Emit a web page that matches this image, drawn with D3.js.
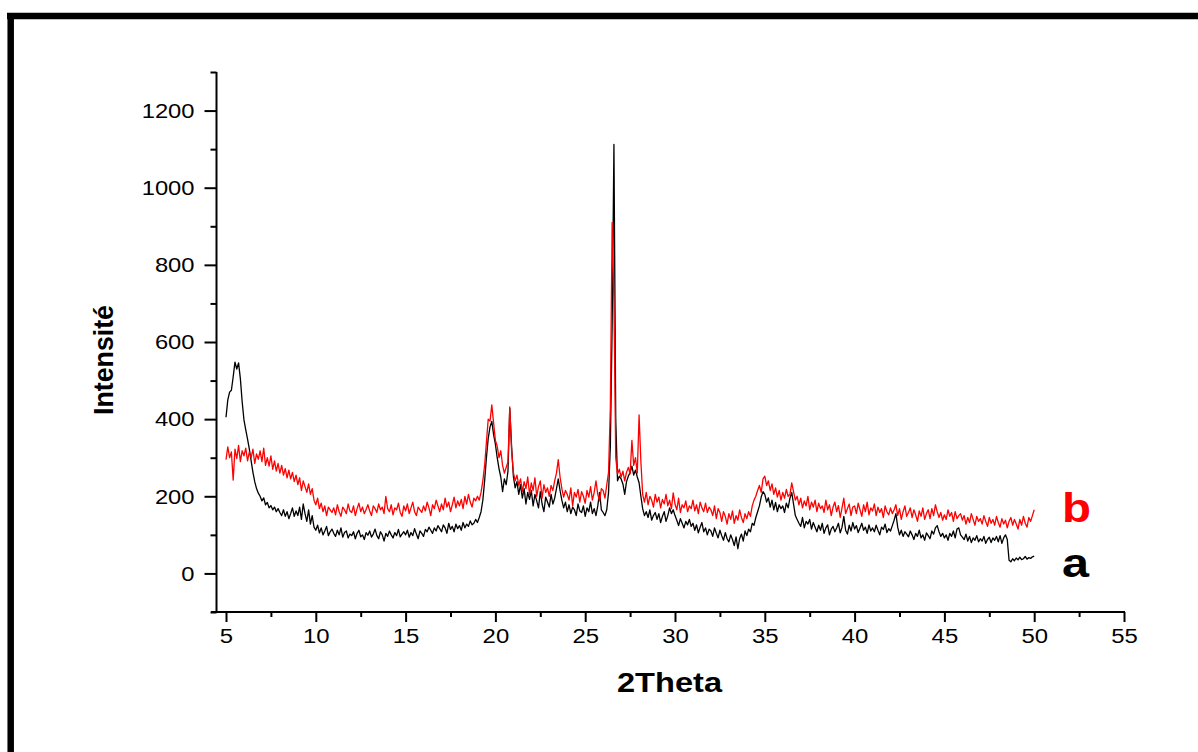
<!DOCTYPE html>
<html>
<head>
<meta charset="utf-8">
<script src="https://cdn.jsdelivr.net/npm/d3@7/dist/d3.min.js"></script>
<style>
  html, body { margin: 0; padding: 0; background: #fff; }
  svg { display: block; }
  text { font-family: "Liberation Sans", Arial, sans-serif; }
</style>
</head>
<body>
<svg id="chart" width="1198" height="752"></svg>
<script>
// ---- Data ----
const thetaStart = 5.0;          // first 2θ value
const thetaStep = 0.1;           // sampling step in degrees
// Series a (black), 5.0 → 50.0 every 0.1°
const seriesA = [
  405,450,470,475,510,548,530,546,505,445,
  398,372,348,322,292,262,238,220,208,200,
  188,196,178,184,170,176,165,172,160,168,
  158,150,165,148,160,142,155,170,148,162,
  150,172,140,180,155,135,165,128,150,120,
  112,125,105,118,100,110,122,98,108,115,
  104,96,112,100,118,94,106,110,92,102,
  98,108,90,104,112,95,100,88,106,99,
  110,94,102,115,98,90,108,100,84,104,
  96,110,100,92,106,98,114,95,102,108,
  100,112,94,106,98,116,102,90,110,104,
  96,114,108,120,112,104,118,110,124,116,
  108,126,118,104,130,114,122,108,128,116,
  124,112,132,118,128,122,136,126,130,140,
  132,145,160,190,240,300,350,380,394,360,
  335,300,272,250,212,245,230,265,428,330,
  252,222,238,205,230,195,220,180,210,192,
  215,175,205,188,170,212,180,160,198,185,
  172,205,180,195,220,245,215,190,170,185,
  160,178,155,172,165,150,180,162,158,175,
  148,170,160,185,155,168,150,175,210,165,
  158,150,165,210,330,640,1112,400,240,252,
  245,232,205,238,252,262,278,255,268,250,
  235,200,168,150,160,145,165,138,150,158,
  140,155,132,148,160,135,150,170,155,165,
  150,138,124,142,130,118,135,126,140,122,
  130,112,126,105,120,132,108,118,100,115,
  110,96,118,104,92,112,98,86,106,90,
  82,100,88,72,95,64,90,102,84,110,
  98,115,108,130,125,145,160,175,198,212,
  205,185,196,172,190,165,184,160,178,168,
  175,158,182,170,195,210,180,150,140,130,
  122,145,118,135,128,140,115,132,120,108,
  125,112,130,104,118,126,100,115,122,108,
  118,130,105,120,148,112,102,125,110,132,
  115,124,106,118,130,112,120,104,126,110,
  118,108,125,112,100,120,114,128,106,116,
  110,124,138,155,120,100,112,96,108,102,
  95,110,100,88,104,96,112,92,100,86,
  105,98,90,110,102,118,124,108,96,104,
  92,100,86,104,96,110,92,115,118,100,
  94,88,102,84,96,80,92,86,98,82,
  90,84,96,78,88,94,80,92,86,96,
  82,98,78,92,100,88,34,30,38,33,
  40,35,42,36,38,44,37,41,39,43,
  45
];
// Series b (red), 5.0 → 50.0 every 0.1°
const seriesB = [
  295,328,300,315,242,322,298,332,290,318,
  305,325,292,315,300,322,285,310,296,318,
  290,325,280,300,278,305,270,292,265,285,
  260,280,255,272,248,268,245,262,238,255,
  230,248,215,240,225,210,232,205,220,190,
  178,195,168,182,160,175,150,172,165,158,
  170,152,178,160,148,172,165,155,180,162,
  158,175,150,168,182,160,172,155,166,178,
  162,150,175,168,158,180,165,172,155,200,
  168,160,178,152,170,165,182,158,148,175,
  162,180,155,170,185,160,150,172,165,158,
  175,162,185,170,150,178,168,190,175,160,
  180,165,195,172,185,160,178,198,170,188,
  175,192,168,200,180,205,185,172,195,188,
  200,190,210,240,280,340,400,395,437,390,
  345,330,300,318,280,260,275,290,432,320,
  262,240,255,228,245,212,238,220,250,205,
  235,215,248,200,225,240,195,230,210,222,
  200,228,215,240,260,295,250,220,198,215,
  205,190,222,175,210,198,218,185,212,200,
  182,215,198,225,190,210,240,205,188,220,
  215,195,230,262,430,910,700,300,258,270,
  250,265,240,262,275,258,345,280,300,260,
  411,290,205,185,210,178,200,190,172,205,
  185,198,170,192,180,205,175,190,168,209,
  180,165,195,158,178,170,188,160,175,168,
  190,162,178,155,185,170,160,182,158,172,
  165,150,175,142,168,158,135,160,148,128,
  155,140,162,130,150,138,165,145,132,155,
  142,160,148,175,190,200,215,228,210,245,
  252,228,240,215,232,205,222,198,215,190,
  210,195,218,200,205,235,212,190,200,178,
  195,170,188,175,200,165,185,172,190,160,
  182,168,175,158,190,165,178,150,172,185,
  160,176,145,170,195,155,168,180,150,172,
  175,155,182,165,148,178,160,185,152,170,
  162,180,150,172,158,168,145,175,160,152,
  170,155,165,178,150,168,140,160,175,148,
  158,170,145,165,152,135,162,148,170,140,
  155,165,142,168,150,178,160,145,158,138,
  152,140,165,148,158,135,160,142,150,155,
  138,150,128,145,132,155,140,125,148,135,
  142,128,150,135,122,145,130,140,125,148,
  132,120,142,128,138,118,135,145,125,140,
  128,115,140,125,148,130,120,145,135,150,
  165
];
const xTicks = [5,10,15,20,25,30,35,40,45,50,55];
const xMinorTicks = [7.5,12.5,17.5,22.5,27.5,32.5,37.5,42.5,47.5,52.5];
const yTicks = [0,200,400,600,800,1000,1200];
const yMinorTicks = [-100,100,300,500,700,900,1100,1300];
const seriesLabels = ["a","b"];
const seriesColors = ["#000000","#ff0000"];
const xTitle = "2Theta";
const yTitle = "Intensité";

// ---- Layout ----
const svg = d3.select("#chart");
const x = d3.scaleLinear().domain([5,55]).range([226,1124]);
const y = d3.scaleLinear().domain([-100,1300]).range([612,72]);
const axisX0 = 216.5, axisY0 = 612;

// Outer frame (thick black lines at top and left)
svg.append("line").attr("x1",7).attr("x2",1198).attr("y1",16).attr("y2",16)
  .attr("stroke","#000").attr("stroke-width",6.5);
svg.append("line").attr("x1",10.7).attr("x2",10.7).attr("y1",13).attr("y2",752)
  .attr("stroke","#000").attr("stroke-width",6.5);

const toPoints = arr => arr.map((v,i) => [+(thetaStart + i*thetaStep).toFixed(2), v]);
const line = d3.line().x(d => x(d[0])).y(d => y(d[1]));

// Series lines
[seriesA, seriesB].forEach((s,k) => {
  svg.append("path").datum(toPoints(s))
    .attr("fill","none").attr("stroke",seriesColors[k])
    .attr("stroke-width",1.3).attr("stroke-linejoin","round")
    .attr("d",line);
});

// Axes
const gx = svg.append("g").attr("transform",`translate(0,${axisY0})`);
gx.call(d3.axisBottom(x).tickValues(xTicks).tickSize(10).tickPadding(7).tickFormat(d3.format("d")));
gx.append("g").call(d3.axisBottom(x).tickValues(xMinorTicks).tickSize(5).tickFormat(""));
gx.selectAll(".domain").remove();
gx.selectAll("line").attr("stroke","#000").attr("stroke-width",2);
gx.selectAll("text").attr("fill","#000").attr("font-size",20)
  .attr("font-family","'Liberation Sans', Arial, sans-serif")
  .attr("textLength", d => String(d).length*13.3).attr("lengthAdjust","spacingAndGlyphs");

const gy = svg.append("g").attr("transform",`translate(${axisX0},0)`);
gy.call(d3.axisLeft(y).tickValues(yTicks).tickSize(12).tickPadding(10).tickFormat(d3.format("d")));
gy.append("g").call(d3.axisLeft(y).tickValues(yMinorTicks).tickSize(6).tickFormat(""));
gy.selectAll(".domain").remove();
gy.selectAll("line").attr("stroke","#000").attr("stroke-width",2);
gy.selectAll("text").attr("fill","#000").attr("font-size",21)
  .attr("font-family","'Liberation Sans', Arial, sans-serif")
  .attr("textLength", d => String(d).length*13.2).attr("lengthAdjust","spacingAndGlyphs");

// Axis lines
svg.append("line").attr("x1",211).attr("x2",x(55)+1).attr("y1",axisY0).attr("y2",axisY0)
  .attr("stroke","#000").attr("stroke-width",2);
svg.append("line").attr("x1",axisX0).attr("x2",axisX0).attr("y1",y(1300)).attr("y2",axisY0+1)
  .attr("stroke","#000").attr("stroke-width",2);

// Axis titles
svg.append("text").attr("x",669.5).attr("y",692).attr("text-anchor","middle")
  .attr("font-size",28).attr("font-weight","bold")
  .attr("textLength",105).attr("lengthAdjust","spacingAndGlyphs").text(xTitle);
svg.append("text").attr("transform","translate(113,360) rotate(-90)").attr("text-anchor","middle")
  .attr("font-size",28).attr("font-weight","bold")
  .attr("textLength",110).attr("lengthAdjust","spacingAndGlyphs").text(yTitle);

// Series labels
const lastA = seriesA[seriesA.length-1], lastB = seriesB[seriesB.length-1];
svg.append("text").attr("x",1062).attr("y",577).attr("font-size",40).attr("font-weight","bold")
  .attr("fill",seriesColors[0]).attr("textLength",27).attr("lengthAdjust","spacingAndGlyphs")
  .text(seriesLabels[0]);
svg.append("text").attr("x",1062).attr("y",522).attr("font-size",40).attr("font-weight","bold")
  .attr("fill",seriesColors[1]).attr("textLength",29).attr("lengthAdjust","spacingAndGlyphs")
  .text(seriesLabels[1]);
</script>
</body>
</html>
